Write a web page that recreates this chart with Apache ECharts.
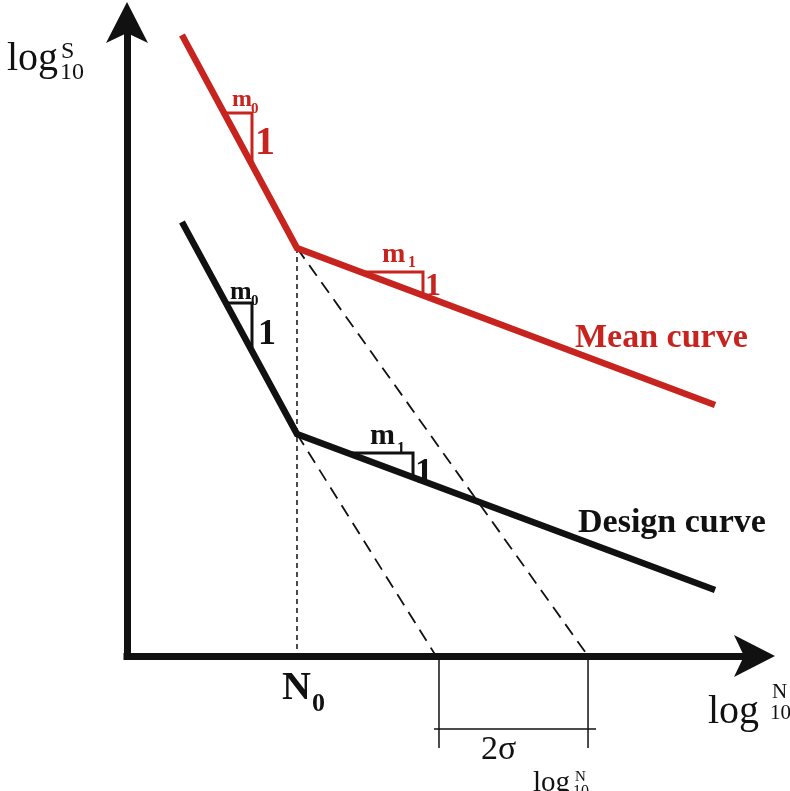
<!DOCTYPE html>
<html>
<head>
<meta charset="utf-8">
<script src="https://cdn.jsdelivr.net/npm/echarts@6/dist/echarts.min.js"></script>
<style>
  html, body { margin: 0; padding: 0; background: #fff; }
  #chart { width: 790px; height: 791px; }
</style>
</head>
<body>
<div id="chart"></div>
<script>
// Bilinear S-N diagram: mean curve, design curve and the 2-sigma shift.
// Coordinates are in abstract log10(N) / log10(S) units (0..10 on each axis).
const meanCurve = [[0.876, 9.803], [2.709, 6.440], [9.371, 3.962]];
const designCurve = [[0.876, 6.851], [2.709, 3.504], [9.371, 1.042]];

// dashed continuations of the m0 branch down to the N axis
const meanExtension = [[2.709, 6.440], [7.347, 0]];
const designExtension = [[2.709, 3.504], [4.924, 0]];

// dotted drop line at the knee point N0
const kneeDrop = [[2.709, 6.440], [2.709, 0]];

// 2 sigma bracket below the N axis
const sigmaLeft = [[4.972, 0], [4.972, -1.452]];
const sigmaRight = [[7.347, 0], [7.347, -1.452]];
const sigmaSpan = [[4.892, -1.152], [7.474, -1.152]];

// slope triangles (run m, rise 1)
const meanSlope0 = [[1.547, 8.571], [1.992, 8.571], [1.992, 7.756]];
const meanSlope1 = [[3.736, 6.061], [4.717, 6.061], [4.717, 5.694]];
const designSlope0 = [[1.576, 5.572], [1.992, 5.572], [1.992, 4.814]];
const designSlope1 = [[3.520, 3.204], [4.558, 3.204], [4.558, 2.821]];

const RED = '#c8241f';
const INK = '#111111';
const SERIF = '"Liberation Serif", "Times New Roman", serif';

// notched arrow head, pointing up in its own frame
const ARROW = 'path://M21,0 L42,41 L21,31 L0,41 Z';

// place a text so that its baseline lands near the given pixel row
function txt(text, x, baseline, size, opt) {
  opt = opt || {};
  return {
    type: 'text',
    x: x,
    y: baseline - 0.2 * size,
    z: 50,
    style: {
      text: text,
      fill: opt.color || INK,
      font: (opt.bold ? 'bold ' : '') + size + 'px ' + SERIF,
      align: 'left',
      verticalAlign: 'middle'
    }
  };
}

function seg(data, color, width, type, extra) {
  return Object.assign({
    type: 'line',
    data: data,
    symbol: 'none',
    silent: true,
    clip: false,
    lineStyle: { color: color, width: width, type: type || 'solid', join: 'miter', cap: 'butt' }
  }, extra || {});
}

const chart = echarts.init(document.getElementById('chart'), null, { renderer: 'canvas' });

const axisCommon = {
  type: 'value',
  min: 0,
  max: 10,
  splitLine: { show: false },
  axisTick: { show: false },
  axisLabel: { show: false },
  axisLine: {
    show: true,
    symbol: ['none', ARROW],
    symbolSize: [42, 41],
    lineStyle: { color: INK, width: 7, cap: 'square' }
  }
};

chart.setOption({
  animation: false,
  backgroundColor: '#ffffff',
  grid: { left: 127, right: 35.5, top: 22.5, bottom: 135, containLabel: false },
  xAxis: Object.assign({}, axisCommon),
  yAxis: Object.assign({}, axisCommon),
  series: [
    seg(kneeDrop, INK, 1.5, [5, 4]),
    seg(meanExtension, INK, 1.8, [13, 8]),
    seg(designExtension, INK, 1.8, [13, 8]),
    seg(sigmaLeft, INK, 1.5),
    seg(sigmaRight, INK, 1.5),
    seg(sigmaSpan, INK, 1.5),
    seg(meanSlope0, RED, 3),
    seg(meanSlope1, RED, 3),
    seg(designSlope0, INK, 3),
    seg(designSlope1, INK, 3),
    seg(meanCurve, RED, 6.5, 'solid', { z: 5 }),
    seg(designCurve, INK, 6.5, 'solid', { z: 5 })
  ],
  graphic: [
    // axis titles
    txt('log', 7, 67, 40),
    txt('S', 61, 57, 24),
    txt('10', 60, 78, 24),
    txt('log', 708, 720, 40),
    txt('N', 772, 697, 21),
    txt('10', 770, 718, 21),
    // knee point
    txt('N', 282, 697, 40, { bold: true }),
    txt('0', 312, 709, 26, { bold: true }),
    // scatter band
    txt('2σ', 481, 757, 34),
    txt('log', 533, 789, 29),
    txt('N', 575, 780, 15),
    txt('10', 573, 795, 16),
    // curve names
    txt('Mean curve', 575, 345, 34, { bold: true, color: RED }),
    txt('Design curve', 578, 530, 34, { bold: true }),
    // slope annotations
    txt('m', 232, 105, 24, { bold: true, color: RED }),
    txt('0', 251, 112, 15, { bold: true, color: RED }),
    txt('1', 255, 152, 40, { bold: true, color: RED }),
    txt('m', 382, 260, 28, { bold: true, color: RED }),
    txt('1', 408, 266, 16, { bold: true, color: RED }),
    txt('1', 425, 293, 32, { bold: true, color: RED }),
    txt('m', 230, 297, 26, { bold: true }),
    txt('0', 251, 304, 15, { bold: true }),
    txt('1', 258, 342, 36, { bold: true }),
    txt('m', 370, 442, 30, { bold: true }),
    txt('1', 397, 452, 16, { bold: true }),
    txt('1', 415, 481, 36, { bold: true })
  ]
});
</script>
</body>
</html>
